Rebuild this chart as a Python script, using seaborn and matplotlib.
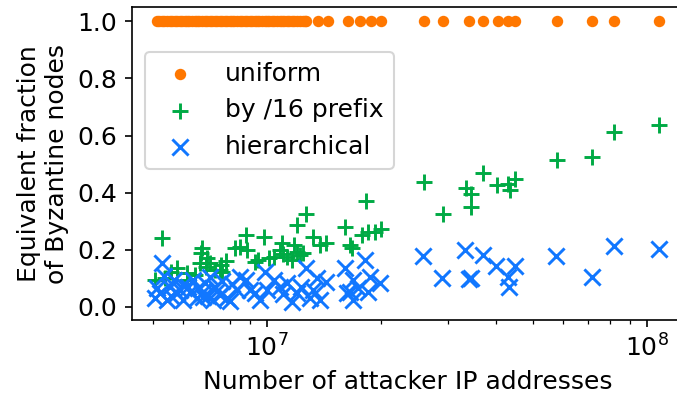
import numpy as np
import pandas as pd
import matplotlib
matplotlib.use("Agg")
import matplotlib.pyplot as plt
import seaborn as sns

# valeurs (x en millions d'adresses IP)
x_uniform = [5.13, 5.21, 5.29, 5.37, 5.46, 5.54, 5.62, 5.71, 5.80, 5.89, 5.98,
             6.07, 6.16, 6.25, 6.35, 6.45, 6.54, 6.64, 6.74, 6.85, 6.95, 7.06,
             7.17, 7.28, 7.39, 7.50, 7.61, 7.73, 7.85, 7.97, 8.09, 8.21, 8.34,
             8.47, 8.60, 8.73, 8.86, 9.0, 9.13, 9.27, 9.41, 9.55, 9.70, 9.85,
             10.0, 10.15, 10.3, 10.45, 10.6, 10.8, 10.95, 11.1, 11.3, 11.45,
             11.6, 11.8, 12.0, 12.2, 12.4, 12.55, 12.7, 13.6, 14.5,
             16.3, 17.6, 18.8, 19.95, 25.9, 29.0, 34.0, 37.0, 40.5, 43.1, 44.9,
             57.8, 71.8, 82.0, 107.5]
y_uniform = [1.0] * len(x_uniform)

x_prefix = [107.5, 82.0, 71.8, 57.8, 44.9, 43.1, 40.3, 43.6, 37.0, 33.4, 34.3,
            34.4, 29.0, 25.9, 18.2, 12.7, 12.0, 16.0, 16.5, 16.7, 18.4, 19.2,
            19.9, 17.8, 13.2, 14.3, 13.8, 9.8, 8.8, 8.5, 8.24, 8.85, 10.95,
            10.8, 11.8, 12.0, 10.4, 11.3, 12.2, 11.6, 12.4, 9.3, 9.47, 7.55,
            7.5, 7.3, 7.6, 6.75, 6.72, 6.95, 6.66, 7.08, 5.3, 5.8, 5.6, 6.16,
            5.07, 5.39, 6.46, 6.16, 6.9, 7.8, 10.1, 11.0]
y_prefix = [0.638, 0.614, 0.526, 0.515, 0.448, 0.429, 0.426, 0.41, 0.468, 0.417,
            0.397, 0.349, 0.325, 0.437, 0.37, 0.325, 0.287, 0.281, 0.217, 0.206,
            0.264, 0.264, 0.272, 0.252, 0.246, 0.225, 0.217, 0.246, 0.252, 0.211,
            0.205, 0.2, 0.225, 0.2, 0.217, 0.194, 0.176, 0.176, 0.182, 0.165,
            0.188, 0.159, 0.165, 0.147, 0.13, 0.13, 0.124, 0.205, 0.188, 0.17,
            0.153, 0.153, 0.24, 0.135, 0.124, 0.118, 0.094, 0.10, 0.112, 0.094,
            0.14, 0.16, 0.17, 0.185]

x_hier = [25.7, 28.9, 33.2, 36.9, 34.0, 34.3, 40.0, 44.8, 43.1, 43.4, 57.6,
          71.4, 81.9, 107.5, 5.28, 18.1, 16.0, 18.7, 16.8, 19.8, 17.4, 16.5,
          16.8, 18.4, 12.7, 14.3, 13.5, 13.2, 13.0, 12.0, 11.6, 11.3, 10.8,
          10.4, 10.0, 9.58, 9.9, 9.0, 8.8, 8.5, 8.34, 7.85, 7.5, 7.3, 7.08,
          6.87, 6.74, 6.54, 6.27, 6.0, 5.8, 5.56, 5.46, 5.23, 5.07, 5.13, 5.7,
          6.0, 6.4, 7.2, 16.2, 13.8, 5.9, 6.6, 7.0, 7.6, 8.1, 5.35, 6.2, 6.8,
          7.4, 5.6, 9.3, 12.3, 11.0, 8.0]
y_hier = [0.18, 0.103, 0.20, 0.182, 0.097, 0.103, 0.145, 0.145, 0.106, 0.07,
          0.18, 0.106, 0.212, 0.203, 0.153, 0.165, 0.135, 0.106, 0.094, 0.083,
          0.065, 0.054, 0.025, 0.054, 0.135, 0.089, 0.10, 0.06, 0.03, 0.048,
          0.019, 0.083, 0.071, 0.094, 0.06, 0.025, 0.124, 0.06, 0.094, 0.106,
          0.06, 0.03, 0.042, 0.071, 0.106, 0.083, 0.048, 0.03, 0.054, 0.025,
          0.048, 0.071, 0.025, 0.048, 0.03, 0.065, 0.094, 0.077, 0.094, 0.025,
          0.048, 0.025, 0.06, 0.065, 0.04, 0.09, 0.08, 0.11, 0.07, 0.035,
          0.055, 0.04, 0.05, 0.07, 0.045, 0.02]

plt.rcParams['font.size'] = 12

fig = plt.figure(figsize=(677 / 150, 401 / 150), dpi=150)
ax = fig.add_axes([0.195, 0.202, 0.814, 0.7805])

sns.scatterplot(x=np.array(x_uniform) * 1e6, y=y_uniform, ax=ax, marker='o',
                color='#ff7700', s=30, linewidth=0, label='uniform')
sns.scatterplot(x=np.array(x_prefix) * 1e6, y=y_prefix, ax=ax, marker='+',
                color='#00aa44', s=55, linewidth=1.4, label='by /16 prefix')
sns.scatterplot(x=np.array(x_hier) * 1e6, y=y_hier, ax=ax, marker='x',
                color='#1177ff', s=60, linewidth=1.4, label='hierarchical')

ax.set_xscale('log')
ax.set_xlim(4.414e6, 1.243e8)
ax.set_ylim(-0.0455, 1.05)
ax.set_xlabel('Number of attacker IP addresses')
ax.set_ylabel('Equivalent fraction\nof Byzantine nodes')
ax.legend(loc='upper left', bbox_to_anchor=(0.024, 0.857), borderaxespad=0)

fig.savefig('out.png', dpi=150)
